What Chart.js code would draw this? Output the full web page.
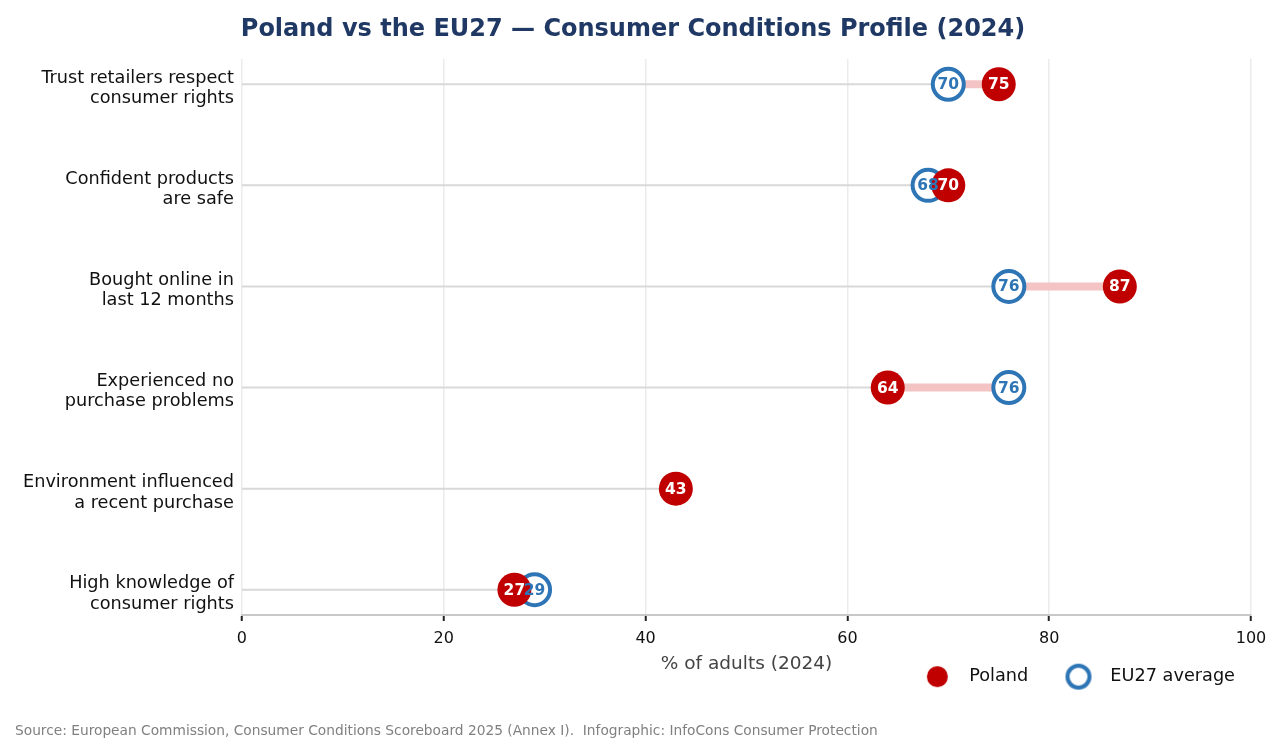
<!DOCTYPE html>
<html>
<head>
<meta charset="utf-8">
<script src="https://cdn.jsdelivr.net/npm/chart.js@4.4.1/dist/chart.umd.min.js"></script>
<style>
  html, body { margin: 0; padding: 0; background: #fff; }
  #wrap { width: 1282px; height: 753px; }
</style>
</head>
<body>
<div id="wrap"><canvas id="chart"></canvas></div>
<script>
const categories = [
  ["Trust retailers respect", "consumer rights"],
  ["Confident products", "are safe"],
  ["Bought online in", "last 12 months"],
  ["Experienced no", "purchase problems"],
  ["Environment influenced", "a recent purchase"],
  ["High knowledge of", "consumer rights"]
];
const poland = [75, 70, 87, 64, 43, 27];
const eu27 = [70, 68, 76, 76, null, 29];
const xTicks = [0, 20, 40, 60, 80, 100];

const RED = "#c00000";
const BLUE = "#2e75b6";
const FONT = "'DejaVu Sans', sans-serif";

// 線（0→小さい値はグレー、差はピンク）
const stemSets = [];
categories.forEach((c, i) => {
  const vals = [poland[i], eu27[i]].filter(v => v !== null);
  const lo = Math.min(...vals);
  const hi = Math.max(...vals);
  stemSets.push({
    type: "line", label: "stem" + i,
    data: [{ x: 0, y: i }, { x: lo, y: i }],
    borderColor: "#d9d9d9", borderWidth: 2, pointRadius: 0, order: 5
  });
  if (hi > lo) {
    stemSets.push({
      type: "line", label: "gap" + i,
      data: [{ x: lo, y: i }, { x: hi, y: i }],
      borderColor: "#f4c4c4", borderWidth: 8, pointRadius: 0, order: 4
    });
  }
});

// 凡例マーカー
function legendMark(fill, stroke, r, lw) {
  const cv = document.createElement("canvas");
  const s = Math.ceil((r + lw) * 2) + 2;
  cv.width = s; cv.height = s;
  const g = cv.getContext("2d");
  g.beginPath();
  g.arc(s / 2, s / 2, r, 0, Math.PI * 2);
  g.fillStyle = fill;
  g.fill();
  if (lw) { g.lineWidth = lw; g.strokeStyle = stroke; g.stroke(); }
  return cv;
}
const markPoland = legendMark(RED, null, 10.5, 0);
const markEU = legendMark("#fff", BLUE, 11, 4);

const valueLabels = {
  id: "valueLabels",
  afterLayout(c) {
    // 凡例を軸タイトルの横まで上げる
    const lg = c.legend;
    lg.top -= 28;
    lg.bottom -= 28;
  },
  afterDatasetsDraw(c) {
    const ctx = c.ctx;
    ctx.save();
    ctx.font = "bold 15.5px " + FONT;
    ctx.textAlign = "center";
    ctx.textBaseline = "middle";
    [["Poland", "#fff"], ["EU27 average", BLUE]].forEach(([name, col]) => {
      const idx = c.data.datasets.findIndex(d => d.label === name);
      const ds = c.data.datasets[idx];
      c.getDatasetMeta(idx).data.forEach((pt, j) => {
        const v = ds.data[j];
        if (!v || v.x === null) return;
        ctx.fillStyle = col;
        ctx.fillText(String(v.x), pt.x, pt.y + 1);
      });
    });
    ctx.restore();
  }
};

new Chart(document.getElementById("chart"), {
  type: "scatter",
  data: {
    datasets: [
      {
        label: "Poland",
        data: poland.map((v, i) => ({ x: v, y: i })),
        backgroundColor: RED, borderColor: RED, borderWidth: 0,
        pointRadius: 17, pointHoverRadius: 17, order: 1
      },
      {
        label: "EU27 average",
        data: eu27.map((v, i) => ({ x: v, y: i })),
        backgroundColor: "#fff", borderColor: BLUE, borderWidth: 4,
        pointRadius: 15.5, pointHoverRadius: 15.5, order: 2
      },
      ...stemSets
    ]
  },
  options: {
    responsive: true,
    maintainAspectRatio: false,
    animation: false,
    layout: { padding: { left: 15, right: 31, top: 0, bottom: 0 } },
    plugins: {
      title: {
        display: true,
        text: "Poland vs the EU27 — Consumer Conditions Profile (2024)",
        color: "#1f3864",
        font: { family: FONT, size: 24, weight: "bold" },
        padding: { top: 15.6, bottom: 14.6 }
      },
      subtitle: {
        display: true,
        position: "bottom",
        align: "start",
        text: "Source: European Commission, Consumer Conditions Scoreboard 2025 (Annex I).  Infographic: InfoCons Consumer Protection",
        color: "#808080",
        font: { family: FONT, size: 13.75 },
        padding: { top: 0, bottom: 13 }
      },
      legend: {
        position: "bottom",
        align: "end",
        labels: {
          usePointStyle: true,
          pointStyleWidth: 46,
          color: "#111",
          padding: 16,
          font: { family: FONT, size: 17.7 },
          generateLabels: () => [
            { text: "Poland  ", pointStyle: markPoland, fontColor: "#111", datasetIndex: 0 },
            { text: "EU27 average", pointStyle: markEU, fontColor: "#111", datasetIndex: 1 }
          ]
        }
      },
      tooltip: { enabled: false }
    },
    scales: {
      x: {
        type: "linear",
        min: 0, max: 100,
        afterBuildTicks: s => { s.ticks = xTicks.map(v => ({ value: v })); },
        grid: { color: "#ebebeb", lineWidth: 1.5, tickColor: "#222", tickLength: 6, tickWidth: 2 },
        border: { color: "#c8c8c8", width: 2 },
        ticks: { color: "#111", font: { family: FONT, size: 16 }, padding: 8 },
        title: {
          display: true, text: "% of adults (2024)", color: "#444",
          font: { family: FONT, size: 18.5 }, padding: { top: -3, bottom: 4.4 }
        }
      },
      y: {
        type: "linear",
        min: -0.25, max: 5.25,
        reverse: true,
        afterBuildTicks: s => { s.ticks = categories.map((c, i) => ({ value: i })); },
        grid: { display: false, drawTicks: false },
        border: { display: false },
        ticks: {
          color: "#111",
          font: { family: FONT, size: 17.7, lineHeight: 1.16 },
          padding: 8,
          labelOffset: 4,
          callback: v => categories[v]
        }
      }
    }
  },
  plugins: [valueLabels]
});
</script>
</body>
</html>
